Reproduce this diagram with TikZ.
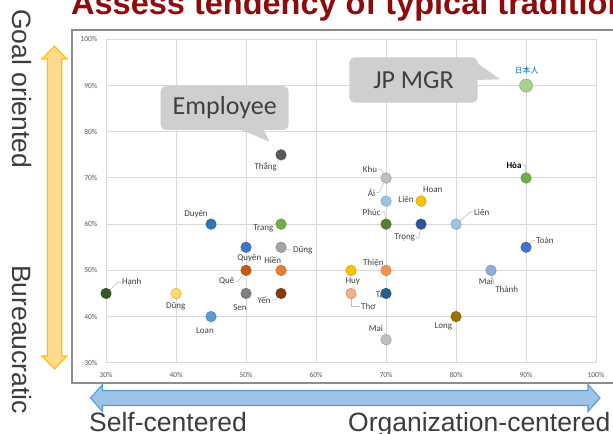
\documentclass[tikz,border=0pt]{standalone}
\usepackage{fontspec}
\setmainfont{Liberation Sans}
\newfontfamily\calfont{Carlito}
\newfontfamily\jpfont{Noto Sans CJK JP}
\usetikzlibrary{shadows}
\definecolor{titlered}{RGB}{143,10,10}
\definecolor{sidetxt}{RGB}{60,60,60}
\definecolor{framegray}{RGB}{140,140,140}
\definecolor{gridgray}{RGB}{217,217,217}
\definecolor{tickgray}{RGB}{89,89,89}
\definecolor{lbltxt}{RGB}{64,64,64}
\definecolor{ldr}{RGB}{191,191,191}
\definecolor{callfill}{RGB}{208,206,206}
\definecolor{arrOfill}{RGB}{255,217,140}
\definecolor{arrOline}{RGB}{255,192,0}
\definecolor{arrBfill}{RGB}{157,195,230}
\definecolor{arrBline}{RGB}{91,155,213}
\definecolor{jpblue}{RGB}{0,112,192}
% dot colours
\definecolor{cThang}{RGB}{89,89,89}
\definecolor{cJP}{RGB}{169,209,142}
\definecolor{cHoa}{RGB}{112,173,71}
\definecolor{cKhu}{RGB}{191,191,191}
\definecolor{cLienA}{RGB}{157,195,230}
\definecolor{cHoan}{RGB}{255,192,0}
\definecolor{cPhuc}{RGB}{84,130,53}
\definecolor{cTrong}{RGB}{47,85,151}
\definecolor{cLienB}{RGB}{157,195,230}
\definecolor{cToan}{RGB}{68,114,196}
\definecolor{cThien}{RGB}{242,147,80}
\definecolor{cHuy}{RGB}{255,192,0}
\definecolor{cTho}{RGB}{244,177,131}
\definecolor{cTai}{RGB}{37,94,145}
\definecolor{cMaiA}{RGB}{143,170,220}
\definecolor{cLong}{RGB}{153,115,0}
\definecolor{cMaiB}{RGB}{191,191,191}
\definecolor{cDuyen}{RGB}{46,117,182}
\definecolor{cTrang}{RGB}{112,173,71}
\definecolor{cQuyen}{RGB}{68,114,196}
\definecolor{cDungA}{RGB}{165,165,165}
\definecolor{cHien}{RGB}{237,125,49}
\definecolor{cQue}{RGB}{197,90,17}
\definecolor{cHanh}{RGB}{55,86,35}
\definecolor{cDungB}{RGB}{255,217,102}
\definecolor{cSen}{RGB}{128,128,128}
\definecolor{cYen}{RGB}{132,60,12}
\definecolor{cLoan}{RGB}{91,155,213}
\tikzset{
  titletext/.style={font=\bfseries\fontsize{32.5bp}{36bp}\selectfont, text=titlered, inner sep=0pt},
  sidelbl/.style={font=\fontsize{26.5bp}{30bp}\selectfont, text=sidetxt, inner sep=0pt},
  gridline/.style={draw=gridgray, line width=0.8bp},
  tick/.style={font=\calfont\fontsize{7.5bp}{8bp}\selectfont, text=tickgray, inner sep=0pt},
  lbl/.style={font=\calfont\fontsize{9bp}{10bp}\selectfont, text=lbltxt, inner sep=0.8bp},
  leader/.style={draw=ldr, line width=0.6bp},
  dot/.style={circle, inner sep=0pt, minimum size=10.5bp, fill=#1, draw=#1!80!black, line width=0.4bp,
    circular drop shadow={shadow xshift=0.5bp, shadow yshift=-0.9bp, shadow scale=1.0, opacity=0.3}},
  callout/.style={rectangle, rounded corners=6bp, fill=callfill, text=lbltxt, inner sep=0pt,
    font=\calfont\fontsize{26bp}{28bp}\selectfont},
}
\newcommand\plotdot[4]{\node[dot=#4] (#1) at ({106+(#2-30)*7},{39.3+(100-#3)*4.62}) {};}
\begin{document}
\begin{tikzpicture}[x=1bp,y=-1bp]
\useasboundingbox (0,0) rectangle (613,434);
% title
\node[titletext, anchor=base west] (title) at (71,15) {Assess tendency of typical tradition};
% side labels
\node[sidelbl, rotate=-90, anchor=base west] (goal) at (12.7,9) {Goal oriented};
\node[sidelbl, rotate=-90, anchor=base west] (bureau) at (12.7,265) {Bureaucratic};
\node[sidelbl, anchor=base west] (selfc) at (89,431.5) {Self-centered};
\node[sidelbl, anchor=base west] (orgc) at (348,431.5) {Organization-centered};
% arrows
\draw[fill=arrOfill, draw=arrOline, line width=1.1bp, line join=miter]
  (54.5,46) -- (67,59) -- (61.7,59) -- (61.7,356) -- (67,356) -- (54.5,369)
  -- (42,356) -- (47.3,356) -- (47.3,59) -- (42,59) -- cycle;
\draw[fill=arrBfill, draw=arrBline, line width=1.1bp, line join=miter]
  (90.5,398) -- (102.5,384.5) -- (102.5,390.5) -- (588,390.5) -- (588,384.5) -- (600,398)
  -- (588,411.5) -- (588,405.5) -- (102.5,405.5) -- (102.5,411.5) -- cycle;
% chart frame
\draw[draw=framegray, line width=2bp, fill=white] (71.5,30) rectangle (640,383);
% grid
\foreach \i in {0,...,7} {
  \draw[gridline] ({106+\i*70},39.3) -- ({106+\i*70},362.7);
  \draw[gridline] (106,{39.3+\i*46.2}) -- (596,{39.3+\i*46.2});
}
\foreach \v [count=\i from 0] in {30,40,50,60,70,80,90,100} {
  \node[tick, anchor=center] (xt\v) at ({106+\i*70},374.5) {\v\%};
  \node[tick, anchor=east] (yt\v) at (97.5,{362.7-\i*46.2}) {\v\%};
}
% label hidden partly behind its dot
\node[lbl, anchor=east] (lTai) at (387,294) {Tài};
% dots
\plotdot{pThang}{55}{75}{cThang}
\node[dot=cJP, minimum size=13bp] (pJP) at (526,85.5) {};
\plotdot{pHoa}{90}{70}{cHoa}
\plotdot{pKhu}{70}{70}{cKhu}
\plotdot{pLienA}{70}{65}{cLienA}
\plotdot{pHoan}{75}{65}{cHoan}
\plotdot{pPhuc}{70}{60}{cPhuc}
\plotdot{pTrong}{75}{60}{cTrong}
\plotdot{pLienB}{80}{60}{cLienB}
\plotdot{pToan}{90}{55}{cToan}
\plotdot{pThien}{70}{50}{cThien}
\plotdot{pHuy}{65}{50}{cHuy}
\plotdot{pTho}{65}{45}{cTho}
\plotdot{pTai}{70}{45}{cTai}
\plotdot{pMaiA}{85}{50}{cMaiA}
\plotdot{pLong}{80}{40}{cLong}
\plotdot{pMaiB}{70}{35}{cMaiB}
\plotdot{pDuyen}{45}{60}{cDuyen}
\plotdot{pTrang}{55}{60}{cTrang}
\plotdot{pQuyen}{50}{55}{cQuyen}
\plotdot{pDungA}{55}{55}{cDungA}
\plotdot{pHien}{55}{50}{cHien}
\plotdot{pQue}{50}{50}{cQue}
\plotdot{pHanh}{30}{45}{cHanh}
\plotdot{pDungB}{40}{45}{cDungB}
\plotdot{pSen}{50}{45}{cSen}
\plotdot{pYen}{55}{45}{cYen}
\plotdot{pLoan}{45}{40}{cLoan}
% labels
\node[lbl] (lThang) at (265.7,166.7) {Thắng};
\node[lbl, text=jpblue, font=\jpfont\fontsize{8bp}{9bp}\selectfont] (lJP) at (526.7,70.7) {日本人};
\node[lbl, font=\calfont\bfseries\fontsize{9bp}{10bp}\selectfont, text=black] (lHoa) at (514,165.3) {Hòa};
\node[lbl] (lKhu) at (370,169.3) {Khu};
\node[lbl] (lAi) at (371.5,192.7) {Ái};
\node[lbl] (lLienA) at (406,199.5) {Liên};
\node[lbl] (lHoan) at (432.7,190) {Hoan};
\node[lbl] (lPhuc) at (371.7,212) {Phúc};
\node[lbl] (lTrong) at (404.7,237.3) {Trọng};
\node[lbl] (lLienB) at (481.7,212) {Liên};
\node[lbl] (lToan) at (545,240.7) {Toàn};
\node[lbl] (lThien) at (373.3,263.3) {Thiện};
\node[lbl] (lHuy) at (352.7,281.7) {Huy};
\node[lbl] (lTho) at (368.3,306.7) {Thơ};
\node[lbl] (lMaiA) at (486,281.7) {Mai};
\node[lbl] (lThanh) at (506.7,289.3) {Thành};
\node[lbl] (lLong) at (443.3,326.7) {Long};
\node[lbl] (lMaiB) at (376,328.3) {Mai};
\node[lbl] (lDuyen) at (196,214) {Duyên};
\node[lbl] (lTrang) at (263.3,228.3) {Trang};
\node[lbl] (lDungA) at (302.7,250) {Dũng};
\node[lbl] (lQuyen) at (249.3,257.7) {Quyên};
\node[lbl] (lHien) at (272.7,260) {Hiền};
\node[lbl] (lQue) at (226.7,281) {Quê};
\node[lbl] (lHanh) at (131.7,282.3) {Hạnh};
\node[lbl] (lDungB) at (175.7,306) {Dũng};
\node[lbl] (lSen) at (240,307.3) {Sen};
\node[lbl] (lYen) at (264,300) {Yến};
\node[lbl] (lLoan) at (205,330.7) {Loan};
% leader lines
\draw[leader] (lThang.north east) -- (pThang);
\draw[leader] (lHoa.east) -- ++(3,0) -- (pHoa);
\draw[leader] (lKhu.east) -- ++(3,0) -- (pKhu);
\draw[leader] (lAi.east) -- ++(3,0) -- (pKhu);
\draw[leader] (lHoan.south west) -- (pHoan);
\draw[leader] (lPhuc.east) -- ++(3,0) -- (pPhuc);
\draw[leader] (lTrong.east) -- ++(3,0) -- (pTrong);
\draw[leader] (lLienB.west) -- ++(-3,0) -- (pLienB);
\draw[leader] (lToan.west) -- ++(-3,0) -- (pToan);
\draw[leader] (lTho.west) -| (pTho);
\draw[leader] (lThanh.north west) -- (pMaiA);
\draw[leader] (lMaiB.south east) -- (pMaiB);
\draw[leader] (lDungA.west) -- ++(-3,0) -- (pDungA);
\draw[leader] (lQue.east) -- ++(3,0) -- (pQue);
\draw[leader] (lHanh.west) -- ++(-3,0) -- (pHanh);
\draw[leader] (lYen.east) -- ++(3,0) -- (pYen);
% callouts
\fill[callfill] (237,128) -- (269.3,141.7) -- (263,128) -- cycle;
\node[callout, minimum width=128bp, minimum height=44bp] (emp) at (224.7,108) {Employee};
\fill[callfill] (470,58) -- (500,79.3) -- (476,80) -- cycle;
\node[callout, minimum width=128.4bp, minimum height=45.4bp] (jpmgr) at (413.5,80) {JP MGR};
\end{tikzpicture}
\end{document}
